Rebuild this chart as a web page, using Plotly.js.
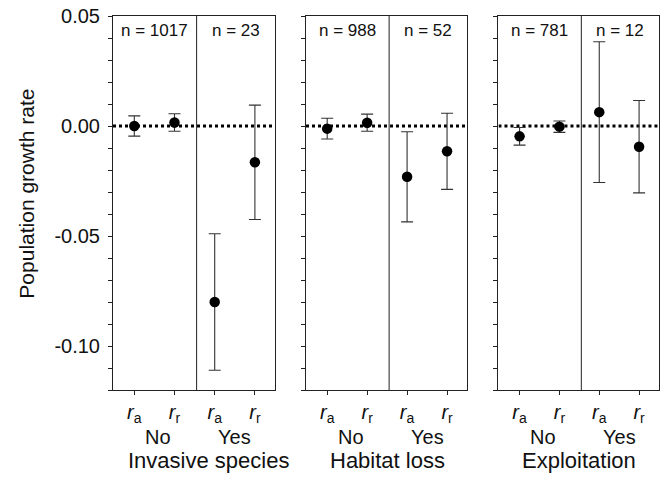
<!DOCTYPE html>
<html><head><meta charset="utf-8">
<script src="https://cdn.plot.ly/plotly-3.0.1.min.js"></script>
<style>html,body{margin:0;padding:0;background:#fff}</style>
</head><body>
<div id="chart" style="width:664px;height:478px"></div>
<script>
// ---- data ----
const groups = ['Invasive species', 'Habitat loss', 'Exploitation'];
const nNo = [1017, 988, 781];
const nYes = [23, 52, 12];
const xPos = [1, 2, 3, 4];
const tickText = ['<i>r</i><sub>a</sub>', '<i>r</i><sub>r</sub>', '<i>r</i><sub>a</sub>', '<i>r</i><sub>r</sub>'];
const subLabels = ['No', 'Yes'];
const yTickVals = [-0.10, -0.05, 0.00, 0.05];
const yTickText = ['-0.10', '-0.05', '0.00', '0.05'];
// values ordered: ra No, rr No, ra Yes, rr Yes
const invasiveMean = [0.0000, 0.0016, -0.0800, -0.0165];
const invasiveErr  = [0.0046, 0.0040, 0.0310, 0.0260];
const habitatMean  = [-0.0012, 0.0015, -0.0231, -0.0115];
const habitatErr   = [0.0047, 0.0039, 0.0205, 0.0173];
const exploitMean  = [-0.0047, -0.0003, 0.0063, -0.0094];
const exploitErr   = [0.0040, 0.0026, 0.0320, 0.0210];
const means = [invasiveMean, habitatMean, exploitMean];
const errs = [invasiveErr, habitatErr, exploitErr];

// ---- layout helpers ----
const FONT = 'Arial, "Liberation Sans", sans-serif';
const domains = [[0, 0.2967], [0.3535, 0.6484], [0.706, 1.0]];
const xRange = [0.47, 4.5];
const yRange = [-0.12, 0.05];
const divider = 2.55;
const axisCol = '#222';

const traces = [];
const layout = {
  width: 664, height: 478,
  margin: {l: 113, r: 5, t: 16, b: 88},
  paper_bgcolor: '#fff', plot_bgcolor: '#fff',
  showlegend: false,
  font: {family: FONT, color: '#111'},
  shapes: [], annotations: []
};

for (let i = 0; i < 3; i++) {
  const sfx = i === 0 ? '' : String(i + 1);
  const xa = 'x' + sfx, ya = 'y' + sfx;
  traces.push({
    type: 'scatter', mode: 'markers',
    x: xPos, y: means[i],
    xaxis: xa, yaxis: ya,
    marker: {color: '#000', size: 10.5},
    error_y: {type: 'data', array: errs[i], visible: true, color: '#333', thickness: 1.1, width: 6},
    cliponaxis: false, hoverinfo: 'skip'
  });
  layout['xaxis' + sfx] = {
    domain: domains[i], range: xRange, anchor: ya,
    tickmode: 'array', tickvals: xPos, ticktext: tickText,
    ticks: 'outside', ticklen: 4, tickcolor: axisCol, tickwidth: 1,
    tickfont: {size: 20, family: FONT, color: '#111'},
    showline: true, linecolor: axisCol, linewidth: 1, mirror: true,
    showgrid: false, zeroline: false, fixedrange: true
  };
  layout['yaxis' + sfx] = {
    domain: [0, 1], range: yRange, anchor: xa,
    tickmode: 'array', tickvals: yTickVals, ticktext: yTickText,
    showticklabels: i === 0, ticklabelstandoff: 4,
    tickfont: {size: 20, family: FONT, color: '#111'},
    ticks: 'outside', ticklen: 4, tickcolor: axisCol, tickwidth: 1,
    minor: {dtick: 0.01, tick0: 0, ticks: 'outside', ticklen: 4, tickcolor: axisCol, tickwidth: 1, showgrid: false},
    showline: true, linecolor: axisCol, linewidth: 1, mirror: true,
    showgrid: false, zeroline: false, fixedrange: true
  };
  // dotted zero line
  layout.shapes.push({
    type: 'line', xref: xa, yref: ya, x0: xRange[0], x1: xRange[1], y0: 0, y1: 0,
    line: {color: '#000', width: 2.8, dash: 'dot'}, layer: 'below'
  });
  // No / Yes divider
  layout.shapes.push({
    type: 'line', xref: xa, yref: ya, x0: divider, x1: divider, y0: yRange[0], y1: yRange[1],
    line: {color: axisCol, width: 1}
  });
  // n labels
  layout.annotations.push({
    xref: xa, yref: ya, x: (xRange[0] + divider) / 2, y: 0.0432, yanchor: 'middle',
    text: 'n = ' + nNo[i], showarrow: false, font: {size: 17, family: FONT, color: '#111'}
  });
  layout.annotations.push({
    xref: xa, yref: ya, x: (divider + xRange[1]) / 2, y: 0.0432, yanchor: 'middle',
    text: 'n = ' + nYes[i], showarrow: false, font: {size: 17, family: FONT, color: '#111'}
  });
  // No / Yes labels
  layout.annotations.push({
    xref: xa, yref: 'paper', x: 1.6, y: 0, yshift: -47, yanchor: 'middle',
    text: subLabels[0], showarrow: false, font: {size: 20, family: FONT, color: '#111'}
  });
  layout.annotations.push({
    xref: xa, yref: 'paper', x: 3.5, y: 0, yshift: -47, yanchor: 'middle',
    text: subLabels[1], showarrow: false, font: {size: 20, family: FONT, color: '#111'}
  });
  // group title
  layout.annotations.push({
    xref: xa, yref: 'paper', x: i === 0 ? 2.84 : 2.5, y: 0, yshift: -70, yanchor: 'middle',
    text: groups[i], showarrow: false, font: {size: 22, family: FONT, color: '#111'}
  });
}
// y-axis title
layout.annotations.push({
  xref: 'paper', yref: 'paper', x: -0.1575, y: 0.525, xanchor: 'center', yanchor: 'middle',
  textangle: -90, text: 'Population growth rate', showarrow: false,
  font: {size: 21, family: FONT, color: '#111'}
});

Plotly.newPlot('chart', traces, layout, {staticPlot: true, displayModeBar: false});
</script>
</body></html>
